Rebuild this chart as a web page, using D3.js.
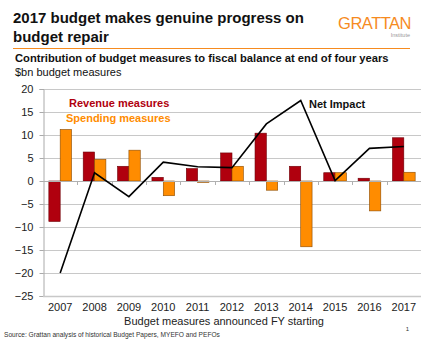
<!DOCTYPE html>
<html>
<head>
<meta charset="utf-8">
<script src="https://cdn.jsdelivr.net/npm/d3@7"></script>
<style>
body{margin:0;background:#fff;}
svg{font-family:"Liberation Sans",Arial,sans-serif;display:block;}
</style>
</head>
<body>
<svg id="chart" width="440" height="348"></svg>
<script>
const years = ['2007','2008','2009','2010','2011','2012','2013','2014','2015','2016','2017'];
const revenue = [-8.8, 6.3, 3.2, 0.8, 2.7, 6.1, 10.4, 3.2, 1.8, 0.6, 9.4];
const spending = [11.2, 4.7, 6.7, -3.2, -0.3, 3.2, -2.0, -14.3, 1.8, -6.5, 1.9];
const netImpact = [-20.0, 1.8, -3.4, 4.1, 3.1, 2.9, 12.4, 17.5, 0.1, 7.1, 7.5];
const yTicks = [20, 15, 10, 5, 0, -5, -10, -15, -20, -25];

const red = '#B0000E', orange = '#FF8C00', brand = '#F68B1F';

const svg = d3.select('#chart');
const plotLeft = 43, plotRight = 421, plotTop = 89, plotBottom = 296;

const x = d3.scaleBand().domain(years).range([plotLeft, plotRight]).paddingInner(0.34).paddingOuter(0.17);
const xc = d3.scaleBand().domain(years).range([plotLeft, plotRight]);
const y = d3.scaleLinear().domain([-25, 20]).range([plotBottom, plotTop]);

// title block
svg.append('text').attr('x', 13).attr('y', 23)
    .attr('font-size', 15).attr('font-weight', 'bold').attr('fill', '#111')
    .text('2017 budget makes genuine progress on');
svg.append('text').attr('x', 13).attr('y', 42)
    .attr('font-size', 15).attr('font-weight', 'bold').attr('fill', '#111')
    .text('budget repair');
svg.append('text').attr('x', 411).attr('y', 29).attr('text-anchor', 'end')
    .attr('font-size', 16.5).attr('fill', brand).attr('letter-spacing', -0.5)
    .text('GRATTAN');
svg.append('text').attr('x', 410).attr('y', 37).attr('text-anchor', 'end')
    .attr('font-size', 5.5).attr('fill', '#999')
    .text('Institute');
svg.append('line').attr('x1', 13).attr('x2', 410).attr('y1', 48.5).attr('y2', 48.5)
    .attr('stroke', brand).attr('stroke-width', 1.2);

svg.append('text').attr('x', 15).attr('y', 62)
    .attr('font-size', 11.2).attr('font-weight', 'bold').attr('fill', '#111')
    .text('Contribution of budget measures to fiscal balance at end of four years');
svg.append('text').attr('x', 15).attr('y', 75.5)
    .attr('font-size', 11).attr('fill', '#111')
    .text('$bn budget measures');

// gridlines
svg.append('g').selectAll('line').data(yTicks.filter(d => d !== 0 && d !== -25)).join('line')
    .attr('x1', plotLeft).attr('x2', plotRight)
    .attr('y1', d => y(d) + 0.5).attr('y2', d => y(d) + 0.5)
    .attr('stroke', '#c8c8c8').attr('stroke-width', 1);

// y axis
const yAxis = svg.append('g').attr('transform', `translate(${plotLeft + 0.5},0)`)
    .call(d3.axisLeft(y).tickValues(yTicks).tickSize(4).tickPadding(6));
yAxis.select('.domain').attr('stroke', '#aaa');
yAxis.selectAll('.tick line').attr('stroke', '#aaa');
yAxis.selectAll('.tick text').attr('font-size', 11).attr('fill', '#222')
    .attr('font-family', '"Liberation Sans",Arial,sans-serif');

// bottom line
svg.append('line').attr('x1', plotLeft).attr('x2', plotRight)
    .attr('y1', plotBottom + 0.5).attr('y2', plotBottom + 0.5)
    .attr('stroke', '#c8c8c8').attr('stroke-width', 1.5);

// bars
const half = x.bandwidth() / 2;
svg.append('g').selectAll('rect').data(years).join('rect')
    .attr('x', d => x(d))
    .attr('width', half)
    .attr('y', (d, i) => y(Math.max(0, revenue[i])))
    .attr('height', (d, i) => Math.abs(y(revenue[i]) - y(0)))
    .attr('fill', red).attr('stroke', '#6e0008').attr('stroke-width', 0.6);
svg.append('g').selectAll('rect').data(years).join('rect')
    .attr('x', d => x(d) + half)
    .attr('width', half)
    .attr('y', (d, i) => y(Math.max(0, spending[i])))
    .attr('height', (d, i) => Math.abs(y(spending[i]) - y(0)))
    .attr('fill', orange).attr('stroke', '#8a4a00').attr('stroke-width', 0.6);

// zero axis with category ticks
svg.append('line').attr('x1', plotLeft).attr('x2', plotRight)
    .attr('y1', y(0) + 0.5).attr('y2', y(0) + 0.5)
    .attr('stroke', '#b0b0b0').attr('stroke-width', 1);
svg.append('g').selectAll('line').data(years.slice(1)).join('line')
    .attr('x1', d => Math.round(xc(d)) + 0.5).attr('x2', d => Math.round(xc(d)) + 0.5)
    .attr('y1', y(0)).attr('y2', y(0) + 4)
    .attr('stroke', '#b0b0b0');

// net impact line
const line = d3.line()
    .x((d, i) => xc(years[i]) + xc.bandwidth() / 2)
    .y(d => y(d));
svg.append('path').datum(netImpact)
    .attr('d', line).attr('fill', 'none')
    .attr('stroke', '#000').attr('stroke-width', 1.6);

// x labels
svg.append('g').selectAll('text').data(years).join('text')
    .attr('x', d => xc(d) + xc.bandwidth() / 2).attr('y', 311)
    .attr('text-anchor', 'middle').attr('font-size', 11).attr('fill', '#222')
    .text(d => d);
svg.append('text').attr('x', 224).attr('y', 325).attr('text-anchor', 'middle')
    .attr('font-size', 11).attr('fill', '#222')
    .text('Budget measures announced FY starting');

// labels
svg.append('text').attr('x', 69).attr('y', 107)
    .attr('font-size', 11).attr('font-weight', 'bold').attr('fill', red)
    .text('Revenue measures');
svg.append('text').attr('x', 66).attr('y', 121.5)
    .attr('font-size', 11).attr('font-weight', 'bold').attr('fill', orange)
    .text('Spending measures');
svg.append('text').attr('x', 309).attr('y', 107.5)
    .attr('font-size', 11).attr('font-weight', 'bold').attr('fill', '#111')
    .text('Net Impact');

svg.append('text').attr('x', 4).attr('y', 337)
    .attr('font-size', 6.6).attr('fill', '#333')
    .text('Source: Grattan analysis of historical Budget Papers, MYEFO and PEFOs');
svg.append('text').attr('x', 409).attr('y', 331).attr('text-anchor', 'end')
    .attr('font-size', 6).attr('fill', '#333')
    .text('1');
</script>
</body>
</html>
